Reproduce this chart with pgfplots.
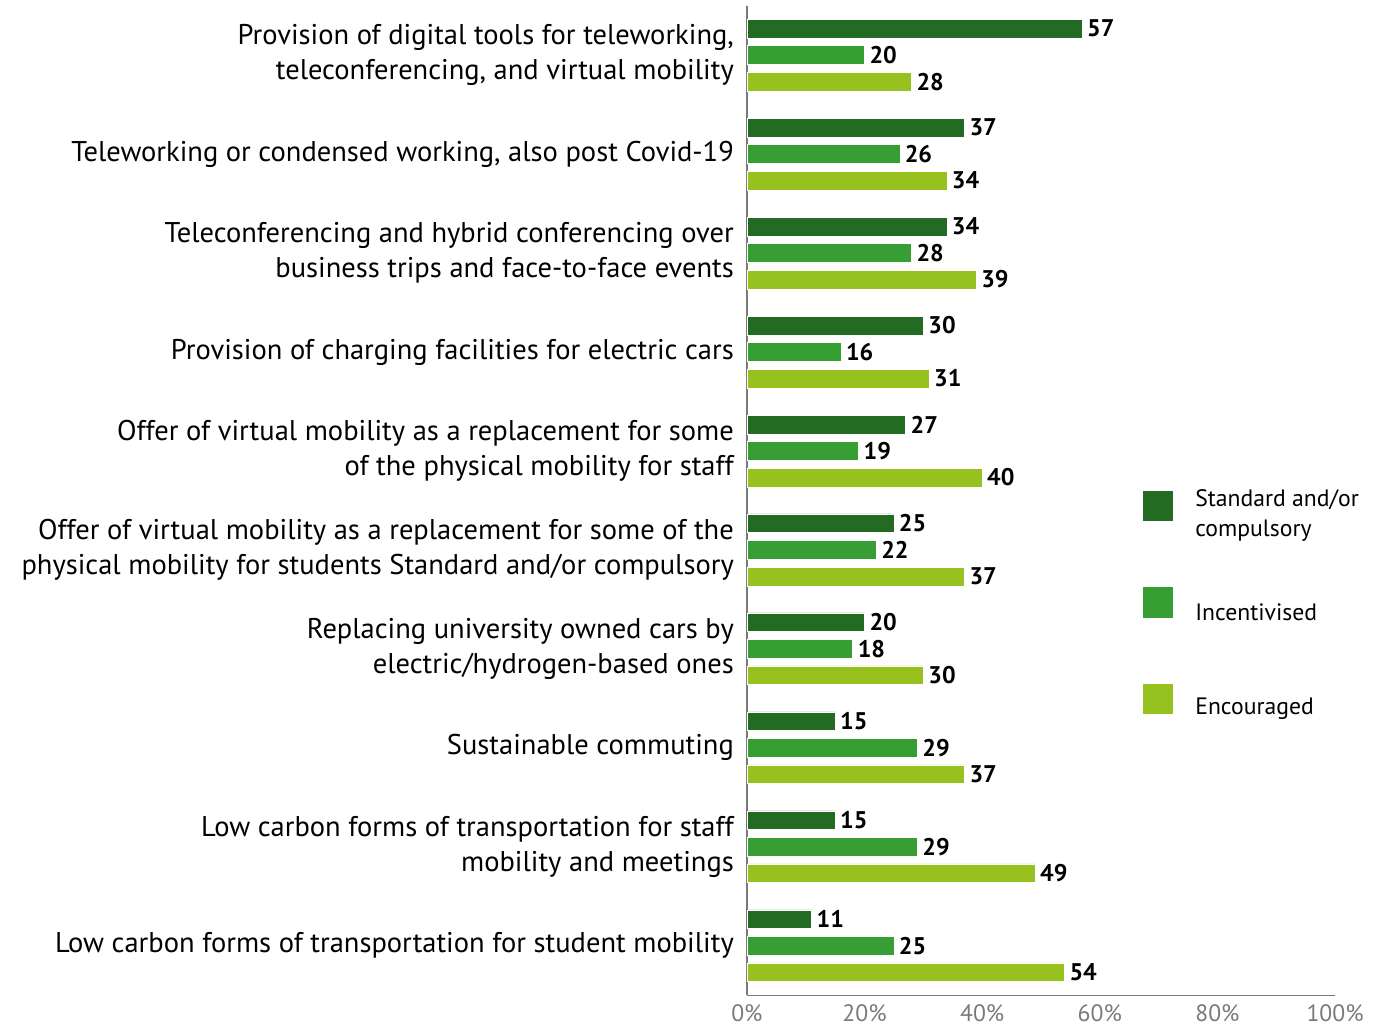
\documentclass[border=0pt]{standalone}
\usepackage{pgfplots}
\pgfplotsset{compat=1.18}
\usepackage{fontspec}
\setmainfont{PT Sans}
\definecolor{cDark}{HTML}{236B22}
\definecolor{cMid}{HTML}{379E34}
\definecolor{cLight}{HTML}{96C11F}
\definecolor{axgray}{HTML}{7A7A7A}
\newcommand{\lgbox}[1]{\parbox[c][28pt][c]{88pt}{\raggedright #1}}
\begin{document}
\begin{tikzpicture}
\begin{axis}[
  scale only axis,
  width=293pt, height=493pt,
  xmin=0, xmax=100,
  ymin=-0.5, ymax=9.5,
  y dir=reverse,
  axis x line=bottom, axis y line=left,
  axis line style={axgray, line width=0.6pt, -},
  xtick={0,20,40,60,80,100},
  xticklabels={0\%,20\%,40\%,60\%,80\%,100\%},
  ytick={0,...,9},
  yticklabels={
    {Provision of digital tools for teleworking,\\teleconferencing, and virtual mobility},
    {Teleworking or condensed working, also post Covid-19},
    {Teleconferencing and hybrid conferencing over\\business trips and face-to-face events},
    {Provision of charging facilities for electric cars},
    {Offer of virtual mobility as a replacement for some\\of the physical mobility for staff},
    {Offer of virtual mobility as a replacement for some of the\\physical mobility for students Standard and/or compulsory},
    {Replacing university owned cars by\\electric/hydrogen-based ones},
    {Sustainable commuting},
    {Low carbon forms of transportation for staff\\mobility and meetings},
    {Low carbon forms of transportation for student mobility}
  },
  major tick length=0pt,
  /pgf/number format/assume math mode=true,
  yticklabel style={align=right, font=\fontsize{14.2}{17.5}\selectfont, xshift=-3pt},
  xticklabel style={font=\fontsize{11.8}{13}\selectfont, text=axgray, yshift=-1pt},
  xbar, bar width=0.19,
  nodes near coords,
  every node near coord/.append style={font=\bfseries\fontsize{12}{13}\selectfont, black, xshift=-1pt},
  legend style={at={(0.66,0.397)}, anchor=west, draw=none, fill=none,
    row sep=25.5pt, font=\fontsize{11.8}{14.5}\selectfont, column sep=9pt},
  legend cell align=left,
  legend image code/.code={\fill[#1] (0pt,-7.75pt) rectangle (15.5pt,7.75pt);},
]
\addplot[fill=cDark, draw=white, line width=0.3pt, bar shift=-0.268] coordinates {
 (57,0) (37,1) (34,2) (30,3) (27,4) (25,5) (20,6) (15,7) (15,8) (11,9)};
\addplot[fill=cMid, draw=white, line width=0.3pt, bar shift=0] coordinates {
 (20,0) (26,1) (28,2) (16,3) (19,4) (22,5) (18,6) (29,7) (29,8) (25,9)};
\addplot[fill=cLight, draw=white, line width=0.3pt, bar shift=0.268] coordinates {
 (28,0) (34,1) (39,2) (31,3) (40,4) (37,5) (30,6) (37,7) (49,8) (54,9)};
\legend{\lgbox{Standard and/or\\compulsory},\lgbox{Incentivised},\lgbox{Encouraged}}
\end{axis}
\path (current bounding box.south west) ++(-7.4pt,0pt);
\path (current bounding box.north east) ++(0pt,2.5pt);
\end{tikzpicture}
\end{document}
